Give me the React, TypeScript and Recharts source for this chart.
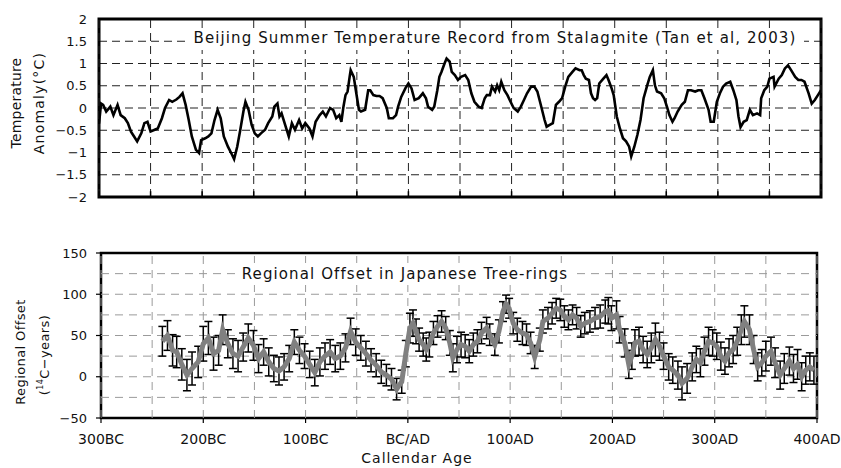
import React from 'react';
import { LineChart, Line, XAxis, YAxis, CartesianGrid, ReferenceLine, ReferenceArea, ErrorBar } from 'recharts';

// Beijing summer temperature anomaly (stalagmite), years: negative = BC
const tempYears = [
  -300, -298, -296, -293, -289, -286, -282, -279, -275, -272, -269, -266, -263, -259, -256, -253, -250, -246, -243, -239,
  -236, -232, -229, -225, -222, -219, -216, -213, -210, -206, -203, -201, -197, -194, -191, -188, -185, -182, -179, -175,
  -171, -169, -166, -163, -160, -158, -155, -152, -149, -146, -143, -139, -136, -132, -130, -127, -125, -123, -119, -116,
  -113, -110, -106, -103, -100, -96, -93, -90, -86, -83, -80, -76, -73, -70, -67, -65, -63, -61, -59, -57,
  -56, -53, -51, -48, -46, -42, -39, -37, -34, -31, -28, -25, -21, -19, -15, -12, -10, -7, -3, 0,
  3, 6, 10, 14, 17, 19, 23, 25, 28, 30, 32, 35, 37, 40, 42, 45, 48, 51, 55, 58,
  61, 64, 68, 71, 74, 76, 79, 81, 84, 86, 88, 90, 93, 96, 99, 102, 106, 109, 112, 115,
  119, 122, 125, 128, 132, 134, 137, 140, 143, 146, 149, 152, 155, 159, 162, 166, 168, 170, 172, 175,
  177, 179, 181, 183, 185, 189, 192, 194, 197, 199, 202, 205, 208, 211, 214, 216, 219, 222, 225, 228,
  232, 234, 237, 239, 241, 245, 248, 251, 253, 256, 258, 261, 265, 268, 271, 274, 278, 281, 284, 287,
  291, 293, 296, 299, 302, 305, 308, 312, 315, 318, 320, 322, 325, 328, 331, 334, 338, 341, 342, 345,
  348, 350, 354, 355, 359, 362, 365, 368, 371, 375, 378, 381, 384, 388, 391, 394, 397, 400,
];
const tempValues = [
  -0.35, 0.1, 0.07, -0.08, 0.03, -0.16, 0.07, -0.16, -0.23, -0.34, -0.53, -0.64, -0.75, -0.57, -0.34, -0.31, -0.53, -0.49, -0.46, -0.23,
  0, 0.18, 0.14, 0.19, 0.25, 0.33, 0.07, -0.27, -0.64, -0.94, -1.01, -0.72, -0.68, -0.64, -0.57, -0.27, -0.04, -0.23, -0.64, -0.87,
  -1.05, -1.15, -0.87, -0.49, -0.08, 0.14, -0.04, -0.38, -0.57, -0.64, -0.57, -0.49, -0.34, -0.19, 0.03, 0.1, -0.19, -0.12, -0.42, -0.64,
  -0.34, -0.49, -0.27, -0.46, -0.34, -0.46, -0.64, -0.31, -0.16, -0.08, -0.19, 0, -0.04, -0.23, -0.16, -0.31, 0.03, 0.29, 0.37, 0.7,
  0.85, 0.7, 0.4, -0.04, -0.08, -0.04, 0.4, 0.4, 0.29, 0.27, 0.27, 0.22, 0, -0.23, -0.23, -0.16, 0.03, 0.25, 0.44, 0.55,
  0.44, 0.18, 0.22, 0.33, 0.22, 0.03, -0.04, 0.03, 0.4, 0.7, 0.81, 1.0, 1.11, 1.04, 0.81, 0.74, 0.63, 0.7, 0.74, 0.63,
  0.33, 0.14, 0.03, 0, 0.22, 0.29, 0.29, 0.48, 0.37, 0.51, 0.4, 0.59, 0.4, 0.29, 0.14, 0, -0.08, 0.03, 0.18, 0.33,
  0.48, 0.48, 0.37, 0.1, -0.27, -0.42, -0.38, -0.34, 0.07, 0.14, 0.22, 0.48, 0.7, 0.81, 0.89, 0.85, 0.85, 0.74, 0.66, 0.63,
  0.33, 0.22, 0.18, 0.22, 0.55, 0.66, 0.74, 0.63, 0.44, 0.29, -0.19, -0.46, -0.68, -0.75, -0.87, -1.09, -0.87, -0.6, -0.27, 0.22,
  0.55, 0.7, 0.85, 0.51, 0.37, 0.33, 0.22, 0, -0.16, -0.31, -0.23, -0.08, 0.07, 0.14, 0.4, 0.4, 0.37, 0.4, 0.4, 0.22,
  -0.04, -0.31, -0.31, 0.14, 0.33, 0.48, 0.55, 0.59, 0.4, 0.18, -0.19, -0.43, -0.31, -0.27, -0.04, -0.16, -0.12, -0.16, 0.22, 0.4,
  0.48, 0.66, 0.7, 0.48, 0.66, 0.74, 0.89, 0.96, 0.85, 0.7, 0.63, 0.63, 0.59, 0.33, 0.1, 0.18, 0.29, 0.4,
];

// Regional offset in Japanese tree-rings (14C years) with 1-sigma errors
const offsetYears = [
  -240, -235, -230, -226, -221, -216, -211, -205, -200, -195, -190, -185, -181, -176, -171, -166, -161, -156, -151, -146,
  -141, -136, -131, -126, -121, -116, -111, -106, -101, -96, -91, -86, -81, -76, -71, -66, -61, -56, -51, -46,
  -41, -36, -31, -26, -21, -16, -11, -6, -2, 2, 5, 8, 11, 15, 18, 21, 25, 29, 33, 37,
  41, 44, 48, 52, 56, 60, 64, 68, 72, 77, 80, 85, 89, 93, 96, 99, 103, 107, 112, 116,
  120, 124, 129, 132, 137, 141, 145, 149, 153, 157, 161, 165, 169, 173, 178, 183, 188, 193, 196, 199,
  204, 207, 212, 216, 219, 222, 226, 230, 234, 238, 242, 246, 250, 255, 259, 264, 268, 273, 278, 282,
  286, 290, 294, 298, 302, 306, 310, 314, 318, 322, 326, 329, 334, 338, 342, 346, 350, 355, 359, 364,
  368, 373, 377, 381, 385, 389, 393, 397,
];
const offsetValues = [
  43, 50, 32, 30, 15, 2, 10, 18, 40, 47, 28, 32, 57, 40, 28, 25, 36, 47, 38, 22,
  30, 18, 10, 7, 12, 22, 42, 32, 25, 15, 5, 18, 25, 30, 22, 25, 35, 55, 42, 35,
  28, 20, 14, 6, 2, -3, -15, -6, 28, 59, 65, 55, 45, 39, 33, 39, 53, 61, 67, 59,
  41, 23, 33, 39, 37, 31, 39, 43, 53, 59, 51, 39, 55, 79, 88, 83, 65, 57, 53, 51,
  41, 24, 45, 67, 71, 77, 83, 81, 73, 69, 75, 71, 61, 65, 67, 71, 73, 79, 80, 71,
  75, 57, 41, 15, 25, 41, 43, 33, 27, 35, 45, 37, 25, 12, 8, 2, -8, -2, 12, 21,
  17, 31, 43, 41, 37, 25, 19, 29, 33, 43, 57, 67, 57, 33, 12, 17, 25, 31, 17, 2,
  10, 19, 10, 15, 0, 8, 12, 8,
];
const offsetErrors = [
  18, 18, 19, 19, 19, 19, 20, 19, 21, 20, 20, 18, 18, 17, 18, 19, 17, 17, 18, 17,
  16, 17, 16, 17, 16, 16, 15, 16, 15, 16, 16, 17, 16, 15, 16, 16, 17, 16, 16, 15,
  15, 14, 14, 14, 13, 13, 13, 14, 16, 18, 16, 15, 14, 14, 14, 15, 14, 13, 13, 14,
  15, 17, 16, 15, 14, 14, 14, 14, 13, 13, 13, 13, 14, 12, 11, 12, 13, 14, 14, 13,
  13, 14, 14, 14, 13, 13, 12, 13, 13, 12, 12, 13, 13, 13, 13, 13, 14, 14, 16, 15,
  17, 16, 17, 17, 16, 16, 17, 16, 16, 18, 20, 17, 16, 16, 16, 17, 20, 18, 17, 16,
  17, 17, 17, 16, 16, 17, 16, 17, 17, 17, 18, 19, 18, 17, 17, 16, 18, 17, 18, 17,
  18, 17, 17, 18, 17, 17, 17, 17,
];

const gridYears = [-300, -250, -200, -150, -100, -50, 0, 50, 100, 150, 200, 250, 300, 350, 400];
const tempTicks = [-2, -1.5, -1, -0.5, 0, 0.5, 1, 1.5, 2];
const offsetTicks = [-50, 0, 50, 100, 150];
const offsetGrid = [-25, 0, 25, 50, 75, 100, 125];
const ageTicks = [-300, -200, -100, 0, 100, 200, 300, 400];
const ageLabels = ['300BC', '200BC', '100BC', 'BC/AD', '100AD', '200AD', '300AD', '400AD'];

const FONT = '"DejaVu Sans", "Noto Sans", sans-serif';
const withMinus = (v: number) => (v < 0 ? `\u2212${Math.abs(v)}` : `${v}`);

const tempData = tempYears.map((year, i) => ({ year, t: tempValues[i] }));
const offsetData = offsetYears.map((year, i) => ({ year, offset: offsetValues[i], err: offsetErrors[i] ?? 16 }));

const abs = (left: number, top: number, extra: React.CSSProperties = {}): React.CSSProperties => ({
  position: 'absolute',
  left,
  top,
  transform: 'translate(-50%, -50%)',
  whiteSpace: 'nowrap',
  fontFamily: FONT,
  color: '#111',
  ...extra,
});

const vertical = (left: number, top: number, size: number, spacing = 0): React.CSSProperties =>
  abs(left, top, { transform: 'translate(-50%, -50%) rotate(-90deg)', fontSize: size, letterSpacing: spacing });

export default function App() {
  return (
    <div style={{ position: 'absolute', left: 0, top: 0, width: 841, height: 468, background: '#fff', overflow: 'hidden' }}>
      <div style={{ position: 'absolute', left: 0, top: 0 }}>
        <LineChart width={841} height={210} data={tempData} margin={{ top: 19, right: 20, bottom: 13, left: 0 }}>
          <CartesianGrid vertical={false} stroke="#222" strokeDasharray="8 5" strokeWidth={1} />
          {gridYears.map((v) => (
            <ReferenceLine key={`v${v}`} x={v} stroke="#222" strokeDasharray="8 5" />
          ))}
          {gridYears.map((v) => (
            <ReferenceLine
              key={`t${v}`}
              segment={[{ x: v, y: -2 }, { x: v, y: -1.87 }]}
              stroke="#000"
              strokeWidth={1.5}
            />
          ))}
          <XAxis dataKey="year" type="number" domain={[-300, 400]} ticks={gridYears} hide allowDataOverflow />
          <YAxis
            type="number"
            domain={[-2, 2]}
            ticks={tempTicks}
            interval={0}
            width={99}
            tickFormatter={withMinus}
            tickLine={false}
            axisLine={false}
            tickMargin={6}
            tick={{ fill: '#111', fontSize: 13, fontFamily: FONT }}
            allowDataOverflow
          />
          <Line dataKey="t" type="linear" stroke="#000" strokeWidth={2.6} dot={false} isAnimationActive={false} />
          <ReferenceArea x1={-300} x2={400} y1={-2} y2={2} fill="none" stroke="#000" strokeWidth={3} />
        </LineChart>
      </div>

      <div style={{ position: 'absolute', left: 0, top: 230 }}>
        <LineChart width={841} height={238} data={offsetData} margin={{ top: 23, right: 24, bottom: 20, left: 0 }}>
          {offsetGrid.map((v) => (
            <ReferenceLine key={`h${v}`} y={v} stroke="#9a9a9a" strokeDasharray="8 6" />
          ))}
          {gridYears.map((v) => (
            <ReferenceLine key={`v${v}`} x={v} stroke="#9a9a9a" strokeDasharray="8 6" />
          ))}
          <XAxis
            dataKey="year"
            type="number"
            domain={[-300, 400]}
            ticks={ageTicks}
            interval={0}
            height={30}
            tickSize={5}
            tickMargin={11}
            tickFormatter={(v: number) => ageLabels[ageTicks.indexOf(v)]}
            axisLine={false}
            tickLine={{ stroke: '#000', strokeWidth: 1.2 }}
            tick={{ fill: '#111', fontSize: 14, fontFamily: FONT }}
            allowDataOverflow
          />
          <YAxis
            type="number"
            domain={[-50, 150]}
            ticks={offsetTicks}
            interval={0}
            width={101}
            tickSize={5}
            tickMargin={9}
            tickFormatter={withMinus}
            axisLine={false}
            tickLine={{ stroke: '#000', strokeWidth: 1.2 }}
            tick={{ fill: '#111', fontSize: 13, fontFamily: FONT }}
            allowDataOverflow
          />
          <Line dataKey="offset" type="linear" stroke="#808080" strokeWidth={5} dot={false} isAnimationActive={false}>
            <ErrorBar dataKey="err" width={4} stroke="#000" strokeWidth={1.5} />
          </Line>
          <ReferenceArea x1={-300} x2={400} y1={-50} y2={150} fill="none" stroke="#000" strokeWidth={2.5} />
        </LineChart>
      </div>

      <div style={{ position: 'absolute', left: 187, top: 29, width: 617, height: 21, background: '#fff' }} />
      <div style={abs(495, 38, { fontSize: 15, letterSpacing: 1.1 })}>
        Beijing Summer Temperature Record from Stalagmite (Tan et al, 2003)
      </div>

      <div style={{ position: 'absolute', left: 237, top: 263, width: 337, height: 22, background: '#fff' }} />
      <div style={abs(405, 274, { fontSize: 15, letterSpacing: 1.1 })}>Regional Offset in Japanese Tree-rings</div>

      <div style={vertical(16, 103, 14, 0.2)}>Temperature</div>
      <div style={vertical(39, 103, 14, 1.2)}>Anomaly(°C)</div>
      <div style={vertical(20, 352, 13, 0.4)}>Regional Offset</div>
      <div style={vertical(44, 355, 13, 0.4)}>
        (<span style={{ fontSize: 8, verticalAlign: 'super' }}>14</span>C−years)
      </div>

      <div style={abs(417, 458, { fontSize: 14, letterSpacing: 1 })}>Callendar Age</div>
    </div>
  );
}
